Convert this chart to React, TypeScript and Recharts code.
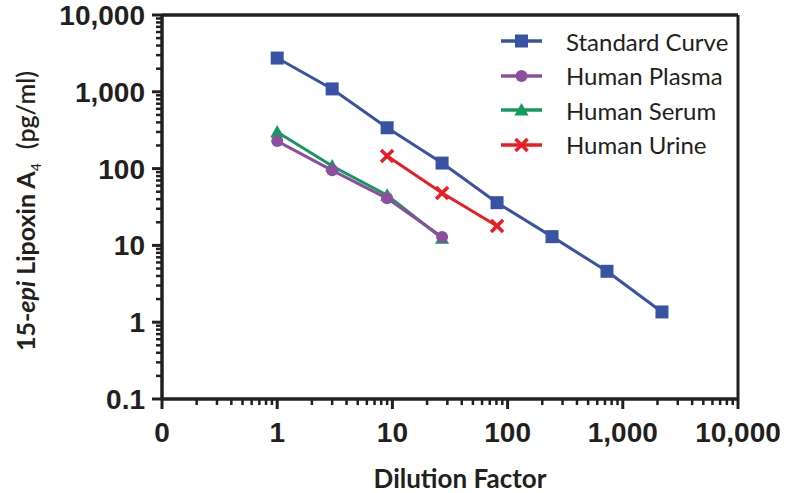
import { LineChart, Line, XAxis, YAxis, ReferenceLine } from 'recharts';

const dilution = [1, 3, 9, 27, 81, 243, 729, 2187];
const standardCurve = [2750, 1090, 340, 118, 36, 13, 4.6, 1.36];
const sampleDilution = [1, 3, 9, 27];
const humanPlasma = [228, 95, 41, 12.9];
const humanSerum = [300, 108, 45, 12.4];
const urineDilution = [9, 27, 81];
const humanUrine = [146, 48, 17.9];

const xMajorTicks = [0.1, 1, 10, 100, 1000, 10000];
const yMajorTicks = [0.1, 1, 10, 100, 1000, 10000];

const INK = '#231f20';
const TICK_FONT = '"Liberation Sans", Arial, sans-serif';
const TITLE_FONT = 'Lato, "Open Sans", sans-serif';

const withMinors = (majors: number[]) => {
  const out: number[] = [];
  majors.forEach((m, i) => {
    out.push(m);
    if (i < majors.length - 1) {
      for (let k = 2; k <= 9; k++) out.push(+(m * k).toPrecision(6));
    }
  });
  return out;
};

const isMajor = (v: number) => {
  const l = Math.log10(v);
  return Math.abs(l - Math.round(l)) < 1e-6;
};

const fmt = (v: number) => (v < 1 ? String(v) : v.toLocaleString('en-US'));

const toPoints = (xs: number[], ys: number[]) => xs.map((x, i) => ({ x, y: ys[i] }));

const series = [
  { name: 'Standard Curve', color: '#3953a4', shape: 'square', data: toPoints(dilution, standardCurve) },
  { name: 'Human Plasma', color: '#8c4f9f', shape: 'circle', data: toPoints(sampleDilution, humanPlasma) },
  { name: 'Human Serum', color: '#16995f', shape: 'triangle', data: toPoints(sampleDilution, humanSerum) },
  { name: 'Human Urine', color: '#ec1c24', shape: 'cross', data: toPoints(urineDilution, humanUrine) },
];
// drawing order: serum under plasma
const drawOrder = [0, 2, 1, 3];

const Marker = ({ cx, cy, shape, color }: any) => {
  if (cx == null || cy == null) return null;
  if (shape === 'square') return <rect x={cx - 6.5} y={cy - 6.5} width={13} height={13} fill={color} />;
  if (shape === 'circle') return <circle cx={cx} cy={cy} r={6} fill={color} />;
  if (shape === 'triangle')
    return <polygon points={`${cx},${cy - 7} ${cx + 7},${cy + 5.5} ${cx - 7},${cy + 5.5}`} fill={color} />;
  return (
    <g stroke={color} strokeWidth={3.5}>
      <line x1={cx - 6} y1={cy - 6} x2={cx + 6} y2={cy + 6} />
      <line x1={cx - 6} y1={cy + 6} x2={cx + 6} y2={cy - 6} />
    </g>
  );
};

const XTick = ({ x, y, payload }: any) => {
  const v = payload.value;
  const major = isMajor(v);
  return (
    <g>
      <line x1={x} x2={x} y1={y} y2={y + (major ? 10 : 6)} stroke={INK} strokeWidth={major ? 3 : 2.5} />
      {major && (
        <text x={x} y={y + 43} textAnchor="middle" fontFamily={TICK_FONT} fontWeight="bold" fontSize={28} fill={INK}>
          {v === 0.1 ? '0' : fmt(v)}
        </text>
      )}
    </g>
  );
};

const YTick = ({ x, y, payload }: any) => {
  const v = payload.value;
  const major = isMajor(v);
  return (
    <g>
      <line x1={x} x2={x - (major ? 10 : 6)} y1={y} y2={y} stroke={INK} strokeWidth={major ? 3 : 2.5} />
      {major && (
        <text x={x - 17} y={y + 10} textAnchor="end" fontFamily={TICK_FONT} fontWeight="bold" fontSize={28} fill={INK}>
          {fmt(v)}
        </text>
      )}
    </g>
  );
};

const LegendBox = () => (
  <div style={{ position: 'absolute', left: 495, top: 24 }}>
    {series.map((s) => (
      <div key={s.name} style={{ display: 'flex', alignItems: 'center', height: 34.5 }}>
        <svg width={60} height={20} style={{ marginRight: 11 }}>
          <line x1={6} x2={47} y1={10} y2={10} stroke={s.color} strokeWidth={3.5} />
          <Marker cx={26.5} cy={10} shape={s.shape} color={s.color} />
        </svg>
        <span style={{ fontFamily: TITLE_FONT, fontSize: 24, color: INK, whiteSpace: 'nowrap' }}>{s.name}</span>
      </div>
    ))}
  </div>
);

export default function App() {
  return (
    <div style={{ position: 'absolute', left: 0, top: 0, width: 789, height: 493, background: '#fff' }}>
      <LineChart width={789} height={493} margin={{ top: 15, right: 51, bottom: 0, left: 0 }}>
        <XAxis
          dataKey="x"
          type="number"
          scale="log"
          domain={[0.1, 10000]}
          ticks={withMinors(xMajorTicks)}
          interval={0}
          allowDataOverflow
          height={94}
          tickSize={0}
          tickMargin={0}
          tickLine={false}
          tick={<XTick />}
          axisLine={{ stroke: INK, strokeWidth: 3.5 }}
        />
        <YAxis
          dataKey="y"
          type="number"
          scale="log"
          domain={[0.1, 10000]}
          ticks={withMinors(yMajorTicks)}
          interval={0}
          allowDataOverflow
          width={162}
          tickSize={0}
          tickMargin={0}
          tickLine={false}
          tick={<YTick />}
          axisLine={{ stroke: INK, strokeWidth: 3.5 }}
        />
        <ReferenceLine y={10000} stroke={INK} strokeWidth={3.5} />
        <ReferenceLine x={10000} stroke={INK} strokeWidth={3} />
        {drawOrder.map((i) => {
          const s = series[i];
          return (
            <Line
              key={s.name}
              data={s.data}
              dataKey="y"
              name={s.name}
              stroke={s.color}
              strokeWidth={3}
              isAnimationActive={false}
              dot={(p: any) => <Marker key={`${s.name}-${p.index}`} cx={p.cx} cy={p.cy} shape={s.shape} color={s.color} />}
              activeDot={false}
            />
          );
        })}
      </LineChart>
      <LegendBox />
      <div
        style={{
          position: 'absolute',
          left: 460,
          top: 478,
          transform: 'translate(-50%, -50%)',
          fontFamily: TITLE_FONT,
          fontWeight: 'bold',
          fontSize: 26,
          color: INK,
          whiteSpace: 'nowrap',
        }}
      >
        Dilution Factor
      </div>
      <div
        style={{
          position: 'absolute',
          left: 27,
          top: 211,
          transform: 'translate(-50%, -50%) rotate(-90deg)',
          fontFamily: TITLE_FONT,
          fontWeight: 'bold',
          fontSize: 25,
          color: INK,
          whiteSpace: 'nowrap',
        }}
      >
        15-<i>epi</i> Lipoxin A<sub style={{ fontSize: 14, fontWeight: 'normal' }}>4</sub>
        <span style={{ marginLeft: 14, fontWeight: 600 }}>(pg/ml)</span>
      </div>
    </div>
  );
}
